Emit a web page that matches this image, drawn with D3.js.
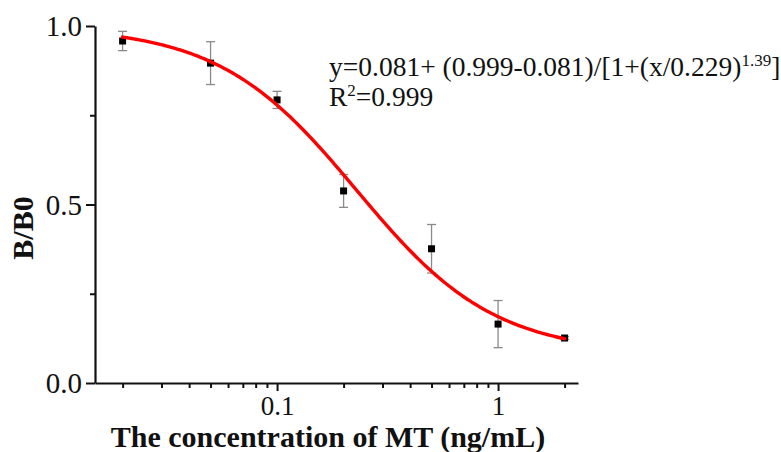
<!DOCTYPE html>
<html lang="en">
<head>
    <meta charset="UTF-8">
    <title>B/B0 vs MT concentration</title>
    <style>
        body { margin: 0; background: #fff; }
        svg text { font-family: "Liberation Serif", "Times New Roman", serif; fill: #111; }
    </style>
</head>
<body>
<script src="https://cdn.jsdelivr.net/npm/d3@7"></script>
<script>
    const width = 781, height = 452;

    // measured points: concentration (ng/mL), B/B0 and error
    const conc = [0.02, 0.05, 0.1, 0.2, 0.5, 1, 2];
    const ratio = [0.958, 0.896, 0.793, 0.538, 0.376, 0.165, 0.126];
    const err = [0.027, 0.060, 0.024, 0.046, 0.068, 0.066, 0.004];

    // four-parameter logistic fit shown in the equation
    const fit = {bottom: 0.081, top: 0.999, x0: 0.229, p: 1.39};
    const xMajor = [0.1, 1];
    const xMinor = [0.02, 0.03, 0.04, 0.05, 0.06, 0.07, 0.08, 0.09, 0.2, 0.3, 0.4, 0.5, 0.6, 0.7, 0.8, 0.9, 2];
    const yMajor = [0, 0.5, 1];
    const yMinor = [0.25, 0.75];

    const x = d3.scaleLog()
        .domain([0.015, 2.3])
        .range([95, 578]);

    const y = d3.scaleLinear()
        .domain([0, 1])
        .range([383, 26]);

    const svg = d3.select("body")
        .append("svg")
        .attr("width", width)
        .attr("height", height)
        .attr("viewBox", [0, 0, width, height]);

    const logistic = c => fit.bottom + (fit.top - fit.bottom) / (1 + Math.pow(c / fit.x0, fit.p));

    // fitted curve sampled along the log axis
    const curve = d3.range(0, 201).map(i => {
        const c = Math.pow(10, Math.log10(0.02) + i / 200 * (Math.log10(2) - Math.log10(0.02)));
        return [c, logistic(c)];
    });

    // axes
    const xAxis = g => g
        .attr("transform", `translate(0,${y(0)})`)
        .call(d3.axisBottom(x).tickValues(xMajor).tickFormat(d3.format("")).tickSize(8).tickSizeOuter(0))
        .call(g => g.select(".domain").attr("stroke-width", 2.2).attr("stroke", "#111"))
        .call(g => g.selectAll(".tick line").attr("stroke-width", 2).attr("stroke", "#111"))
        .call(g => g.selectAll(".tick text").attr("dy", 0).attr("y", 32)
            .style("font-size", "27px"));

    const xMinorAxis = g => g
        .attr("transform", `translate(0,${y(0)})`)
        .call(d3.axisBottom(x).tickValues(xMinor).tickFormat("").tickSize(5).tickSizeOuter(0))
        .call(g => g.select(".domain").remove())
        .call(g => g.selectAll(".tick line").attr("stroke-width", 2).attr("stroke", "#111"));

    const yAxis = g => g
        .attr("transform", `translate(${x.range()[0]},0)`)
        .call(d3.axisLeft(y).tickValues(yMajor).tickFormat(d3.format(".1f")).tickSize(9).tickSizeOuter(0))
        .call(g => g.select(".domain").attr("stroke-width", 2.2).attr("stroke", "#111"))
        .call(g => g.selectAll(".tick line").attr("stroke-width", 2).attr("stroke", "#111"))
        .call(g => g.selectAll(".tick text").attr("x", -13).attr("dy", "0.34em").style("font-size", "29px"));

    const yMinorAxis = g => g
        .attr("transform", `translate(${x.range()[0]},0)`)
        .call(d3.axisLeft(y).tickValues(yMinor).tickFormat("").tickSize(5).tickSizeOuter(0))
        .call(g => g.select(".domain").remove())
        .call(g => g.selectAll(".tick line").attr("stroke-width", 2).attr("stroke", "#111"));

    svg.append("g").call(xMinorAxis);
    svg.append("g").call(xAxis);
    svg.append("g").call(yMinorAxis);
    svg.append("g").call(yAxis);

    // error bars
    const points = conc.map((c, i) => ({c, v: ratio[i], e: err[i]}));
    const bars = svg.append("g")
        .attr("stroke", "#8a8a8a")
        .attr("stroke-width", 1.3);

    bars.selectAll("line.stem")
        .data(points)
        .join("line")
        .attr("class", "stem")
        .attr("x1", d => x(d.c)).attr("x2", d => x(d.c))
        .attr("y1", d => y(d.v + d.e)).attr("y2", d => y(d.v - d.e));

    bars.selectAll("line.cap-top")
        .data(points)
        .join("line")
        .attr("class", "cap-top")
        .attr("x1", d => x(d.c) - 4.5).attr("x2", d => x(d.c) + 4.5)
        .attr("y1", d => y(d.v + d.e)).attr("y2", d => y(d.v + d.e));

    bars.selectAll("line.cap-bot")
        .data(points)
        .join("line")
        .attr("class", "cap-bot")
        .attr("x1", d => x(d.c) - 4.5).attr("x2", d => x(d.c) + 4.5)
        .attr("y1", d => y(d.v - d.e)).attr("y2", d => y(d.v - d.e));

    // markers
    svg.append("g")
        .attr("fill", "#000")
        .selectAll("rect")
        .data(points)
        .join("rect")
        .attr("x", d => x(d.c) - 3.5)
        .attr("y", d => y(d.v) - 3.5)
        .attr("width", 7)
        .attr("height", 7);

    // fit curve
    svg.append("path")
        .datum(curve)
        .attr("fill", "none")
        .attr("stroke", "#ff0000")
        .attr("stroke-width", 3.4)
        .attr("stroke-linecap", "round")
        .attr("d", d3.line().x(d => x(d[0])).y(d => y(d[1])));

    // equation
    const eq = svg.append("text")
        .attr("x", 329)
        .attr("y", 76)
        .style("font-size", "27.5px");
    eq.append("tspan").text("y=0.081+ (0.999-0.081)/[1+(x/0.229)");
    eq.append("tspan").attr("dy", -10).style("font-size", "17px").text("1.39");
    eq.append("tspan").attr("dy", 10).text("]");

    const r2 = svg.append("text")
        .attr("x", 329)
        .attr("y", 106)
        .style("font-size", "27.5px");
    r2.append("tspan").text("R");
    r2.append("tspan").attr("dy", -10).style("font-size", "17px").text("2");
    r2.append("tspan").attr("dy", 10).text("=0.999");

    // axis titles
    svg.append("text")
        .attr("x", 328)
        .attr("y", 447)
        .attr("text-anchor", "middle")
        .style("font-size", "30px")
        .style("font-weight", "bold")
        .text("The concentration of MT (ng/mL)");

    svg.append("text")
        .attr("transform", `translate(33,228) rotate(-90)`)
        .attr("text-anchor", "middle")
        .style("font-size", "30px")
        .style("font-weight", "bold")
        .text("B/B0");
</script>
</body>
</html>
